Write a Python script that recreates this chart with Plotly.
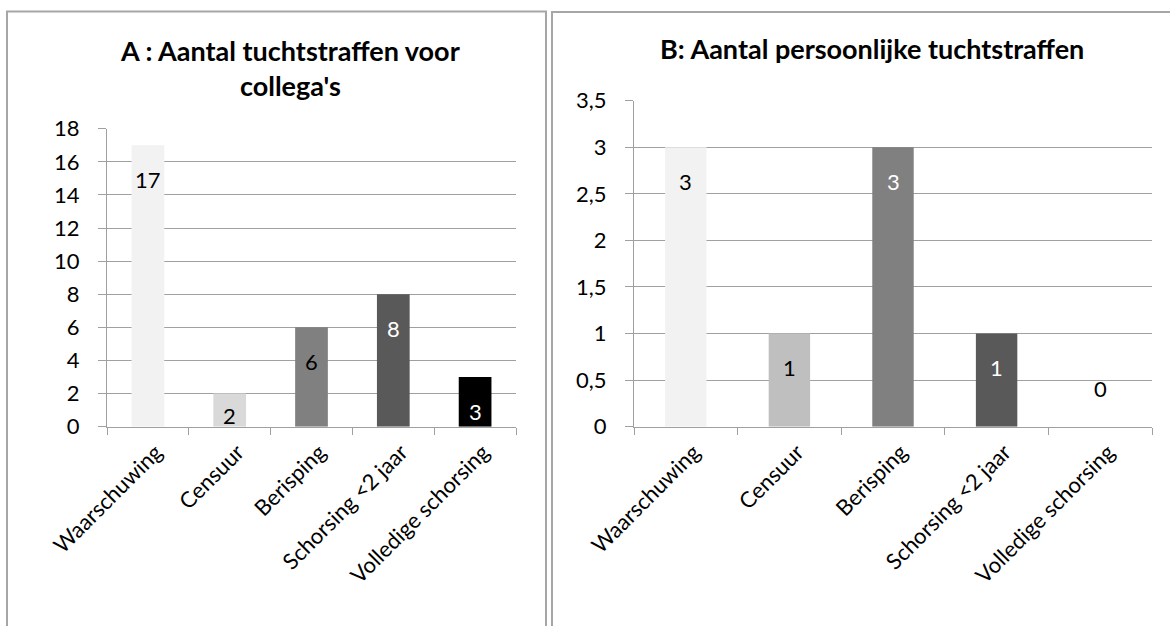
import plotly.graph_objects as go

categories = ["Waarschuwing", "Censuur", "Berisping", "Schorsing <2 jaar", "Volledige schorsing"]
values_a = [17, 2, 6, 8, 3]
values_b = [3, 1, 3, 1, 0]
colors_a = ["#f2f2f2", "#d9d9d9", "#808080", "#595959", "#000000"]
colors_b = ["#f2f2f2", "#bfbfbf", "#808080", "#595959", "#3f3f3f"]
label_colors_a = ["black", "black", "black", "white", "white"]
label_colors_b = ["black", "black", "white", "white", "black"]
title_a = "A : Aantal tuchtstraffen voor<br>collega's"
title_b = "B: Aantal persoonlijke tuchtstraffen"

W, H = 1170, 626
FONT = "Lato"
GRID = "#a0a0a0"
Y0_PX = 426.7
A_TOP_PX, B_TOP_PX = 128.7, 100.7
A_MAX, B_MAX = 18, 3.5

def px_x(v):
    return v / W

def px_y(v):
    return 1 - v / H

fig = go.Figure()
fig.add_trace(go.Bar(x=categories, y=values_a, marker=dict(color=colors_a, line=dict(width=0)),
                     xaxis="x", yaxis="y", showlegend=False, hoverinfo="skip"))
fig.add_trace(go.Bar(x=categories, y=values_b, marker=dict(color=colors_b, line=dict(width=0)),
                     xaxis="x2", yaxis="y2", showlegend=False, hoverinfo="skip"))

annotations = []
for xr, yr, vals, cols, pxper in [("x", "y", values_a, label_colors_a, (Y0_PX - A_TOP_PX) / A_MAX),
                                  ("x2", "y2", values_b, label_colors_b, (Y0_PX - B_TOP_PX) / B_MAX)]:
    for c, v, col in zip(categories, vals, cols):
        if v > 0:
            shift = -min(34, v * pxper - 11)
        else:
            shift = 38
        annotations.append(dict(x=c, y=v, xref=xr, yref=yr, text=str(v), showarrow=False,
                                yanchor="middle", yshift=shift,
                                font=dict(family=FONT, size=22, color=col)))

annotations.append(dict(x=px_x(290), y=px_y(68), xref="paper", yref="paper",
                        text="<b>" + title_a.replace("<br>", "</b><br><b>") + "</b>",
                        showarrow=False, xanchor="center", yanchor="middle",
                        font=dict(family=FONT, size=27, color="black")))
annotations.append(dict(x=px_x(872), y=px_y(49), xref="paper", yref="paper", text="<b>" + title_b + "</b>",
                        showarrow=False, xanchor="center", yanchor="middle",
                        font=dict(family=FONT, size=27, color="black")))

xcommon = dict(showline=True, linecolor=GRID, linewidth=1, ticks="outside", tickson="boundaries",
               ticklen=7, tickcolor=GRID, tickangle=-45, showgrid=False, automargin=False,
               ticklabelstandoff=3, ticklabelshift=8,
               tickfont=dict(family=FONT, size=22, color="black"), fixedrange=True)
ycommon = dict(showline=True, linecolor=GRID, linewidth=1, ticks="outside", ticklen=8, tickcolor=GRID,
               showgrid=True, gridcolor=GRID, gridwidth=1, zeroline=False, automargin=False,
               tickfont=dict(family=FONT, size=22, color="black"), ticklabelstandoff=14, fixedrange=True)

fig.update_layout(
    template="none",
    width=W, height=H,
    margin=dict(l=0, r=0, t=0, b=0, pad=0),
    paper_bgcolor="white", plot_bgcolor="white",
    separators=", ",
    bargap=0.6,
    xaxis=dict(domain=[px_x(107), px_x(516)], anchor="y", **xcommon),
    yaxis=dict(domain=[px_y(Y0_PX), px_y(A_TOP_PX)], anchor="x", range=[0, A_MAX], dtick=2, **ycommon),
    xaxis2=dict(domain=[px_x(634), px_x(1152)], anchor="y2", **xcommon),
    yaxis2=dict(domain=[px_y(Y0_PX), px_y(B_TOP_PX)], anchor="x2", range=[0, B_MAX], dtick=0.5, **ycommon),
    annotations=annotations,
    shapes=[
        dict(type="rect", xref="paper", yref="paper", x0=px_x(7), x1=px_x(546), y0=-0.1, y1=px_y(11.5),
             line=dict(color="#a6a6a6", width=2), fillcolor="rgba(0,0,0,0)", layer="below"),
        dict(type="rect", xref="paper", yref="paper", x0=px_x(552), x1=1.1, y0=-0.1, y1=px_y(12),
             line=dict(color="#a6a6a6", width=2), fillcolor="rgba(0,0,0,0)", layer="below"),
    ],
)

fig.write_html("out.html")
